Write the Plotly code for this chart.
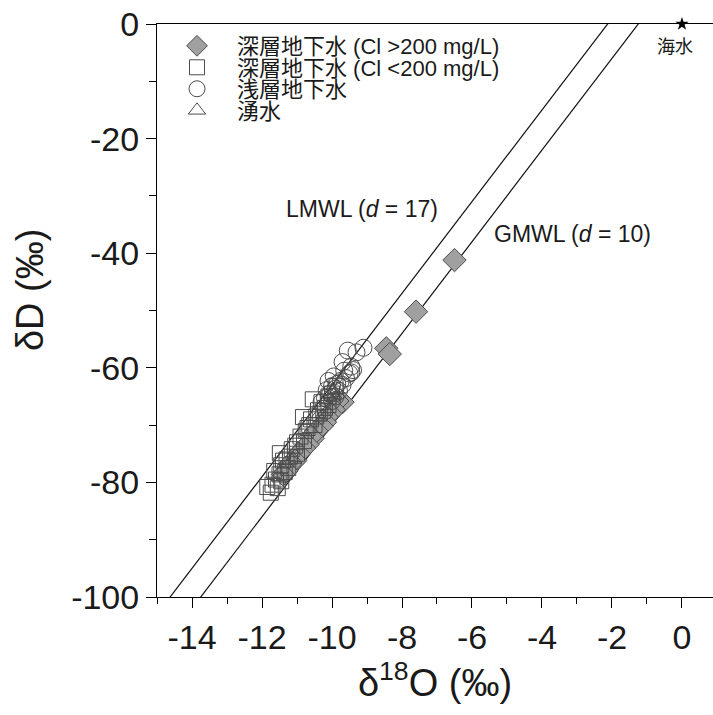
import plotly.graph_objects as go

# Stable isotope composition (‰ vs VSMOW) by water type
deep_hi_cl_o = [-6.5, -7.6, -8.45, -8.35, -9.7, -9.85, -9.95, -10.05, -10.15, -10.2,
                -10.3, -10.45, -10.55, -10.6, -10.7, -10.8, -10.95, -11.05, -11.2,
                -11.3, -11.4]
deep_hi_cl_d = [-41.2, -50.2, -56.6, -57.6, -66.0, -65.8, -67.3, -68.0, -68.6, -69.5,
                -70.2, -71.0, -72.3, -72.0, -73.4, -74.0, -75.0, -76.2, -76.8,
                -78.0, -78.6]

deep_lo_cl_o = [-11.75, -11.7, -11.55, -11.6, -11.5, -11.45, -11.35, -11.3, -11.25,
                -11.15, -11.05, -11.0, -10.9, -10.8, -10.7, -10.6, -10.5, -10.4,
                -10.3, -10.2, -10.1, -10.0, -9.9, -11.4, -10.55, -10.83, -11.49,
                -11.2, -11.0, -10.75, -10.65, -10.45, -10.35, -10.25, -10.1,
                -11.65, -11.85, -11.45]
deep_lo_cl_d = [-81.8, -80.4, -81.0, -79.5, -78.6, -77.0, -78.2, -76.0, -77.5,
                -74.2, -73.6, -75.0, -72.0, -72.8, -70.5, -69.0, -70.0, -67.4,
                -66.0, -67.0, -65.0, -64.5, -63.2, -76.2, -65.5, -68.6, -74.9,
                -75.5, -73.0, -71.0, -70.0, -68.5, -68.0, -67.5, -66.5,
                -78.0, -80.8, -79.8]

shallow_o = [-9.1, -9.3, -9.55, -9.7, -9.45, -9.5, -9.6, -9.75, -9.85, -9.9,
             -10.0, -10.05, -10.15, -10.2, -9.8, -9.65, -10.3, -9.95, -10.1,
             -9.4, -9.45, -9.9, -10.0, -9.7]
shallow_d = [-56.5, -57.3, -57.0, -59.0, -59.8, -61.0, -61.8, -62.3, -62.8, -63.6,
             -63.2, -64.5, -63.9, -65.3, -64.0, -60.5, -66.0, -61.5, -62.3,
             -60.4, -60.8, -65.0, -65.8, -63.0]

spring_o = [-10.4, -9.95, -11.1]
spring_d = [-68.5, -64.8, -76.0]

seawater_o = [0.0]
seawater_d = [0.0]

# Meteoric water lines: δD = slope · δ18O + d
mwl_slope = 8
d_gmwl = 10
d_lmwl = 17
mwl_o = [-16.0, 2.0]

# Axis ticks (plain hyphen for negative labels)
x_ticks = [-14, -12, -10, -8, -6, -4, -2, 0]
y_ticks = [-100, -80, -60, -40, -20, 0]
x_tick_text = [str(v) for v in x_ticks]
y_tick_text = [str(v) for v in y_ticks]

legend_names = ["深層地下水 (Cl >200 mg/L)", "深層地下水 (Cl <200 mg/L)", "浅層地下水", "湧水"]

FONT = "Liberation Sans, Noto Sans CJK JP, Arial, sans-serif"
EDGE = "#4c4c4c"
TEXT = "#1a1a1a"

fig = go.Figure()

for d_excess in (d_lmwl, d_gmwl):
    fig.add_trace(go.Scatter(
        x=mwl_o, y=[mwl_slope * o + d_excess for o in mwl_o],
        mode="lines", line=dict(color="#111111", width=1.2),
        showlegend=False, hoverinfo="skip"))

fig.add_trace(go.Scatter(
    x=deep_hi_cl_o, y=deep_hi_cl_d, mode="markers", name=legend_names[0],
    legend="legend",
    marker=dict(symbol="diamond", size=18, color="#a0a0a0",
                line=dict(color=EDGE, width=1))))
fig.add_trace(go.Scatter(
    x=deep_lo_cl_o, y=deep_lo_cl_d, mode="markers", name=legend_names[1],
    legend="legend2",
    marker=dict(symbol="square-open", size=15, color=EDGE, line=dict(width=1))))
fig.add_trace(go.Scatter(
    x=shallow_o, y=shallow_d, mode="markers", name=legend_names[2],
    legend="legend3",
    marker=dict(symbol="circle-open", size=17, color=EDGE, line=dict(width=1))))
fig.add_trace(go.Scatter(
    x=spring_o, y=spring_d, mode="markers", name=legend_names[3],
    legend="legend4",
    marker=dict(symbol="triangle-up-open", size=15, color=EDGE, line=dict(width=1))))
fig.add_trace(go.Scatter(
    x=seawater_o, y=seawater_d, mode="markers", showlegend=False,
    marker=dict(symbol="star", size=10, color="black"), cliponaxis=False))

# one legend per row so the rows sit close together
row_y = [0.9616, 0.9241, 0.8866, 0.849]
legend_style = dict(x=0.0, xanchor="left", yanchor="middle", bgcolor="rgba(0,0,0,0)",
                    borderwidth=0, itemwidth=70, font=dict(family=FONT, size=22, color=TEXT))
fig.update_layout(
    legend=dict(y=row_y[0], **legend_style),
    legend2=dict(y=row_y[1], **legend_style),
    legend3=dict(y=row_y[2], **legend_style),
    legend4=dict(y=row_y[3], **legend_style),
)

fig.add_annotation(x=-9.14, y=-32.3, text="LMWL (<i>d</i> = 17)", showarrow=False,
                   font=dict(family=FONT, size=23, color=TEXT))
fig.add_annotation(x=-3.14, y=-36.7, text="GMWL (<i>d</i> = 10)", showarrow=False,
                   font=dict(family=FONT, size=23, color=TEXT))
fig.add_annotation(x=-0.2, y=-4.0, text="海水", showarrow=False,
                   font=dict(family=FONT, size=18, color=TEXT))

# vertical-axis title
fig.add_annotation(xref="paper", yref="paper", x=-0.228, y=0.536, text="δD (‰)",
                   textangle=-90, showarrow=False, xanchor="center", yanchor="middle",
                   font=dict(family=FONT, size=38, color=TEXT))

axis_common = dict(showline=True, linecolor="black", linewidth=1, ticks="outside",
                   ticklen=10, tickwidth=1, tickcolor="black", showgrid=False,
                   zeroline=False, tickfont=dict(family=FONT, size=34, color=TEXT))

fig.update_xaxes(range=[-15, 0.886], tickmode="array", tickvals=x_ticks,
                 ticktext=x_tick_text, mirror=True,
                 minor=dict(ticks="outside", ticklen=6, dtick=1, tickcolor="black"),
                 title=dict(text="δ<sup>18</sup>O (‰)", font=dict(family=FONT, size=38, color=TEXT),
                            standoff=10),
                 **axis_common)
fig.update_yaxes(range=[-100, 0], tickmode="array", tickvals=y_ticks,
                 ticktext=y_tick_text,
                 minor=dict(ticks="outside", ticklen=7, dtick=10, tickcolor="black"),
                 **axis_common)

fig.update_layout(width=713, height=715, margin=dict(l=157, r=0, t=24, b=118),
                  plot_bgcolor="white", paper_bgcolor="white",
                  font=dict(family=FONT))

fig.write_html("out.html")
